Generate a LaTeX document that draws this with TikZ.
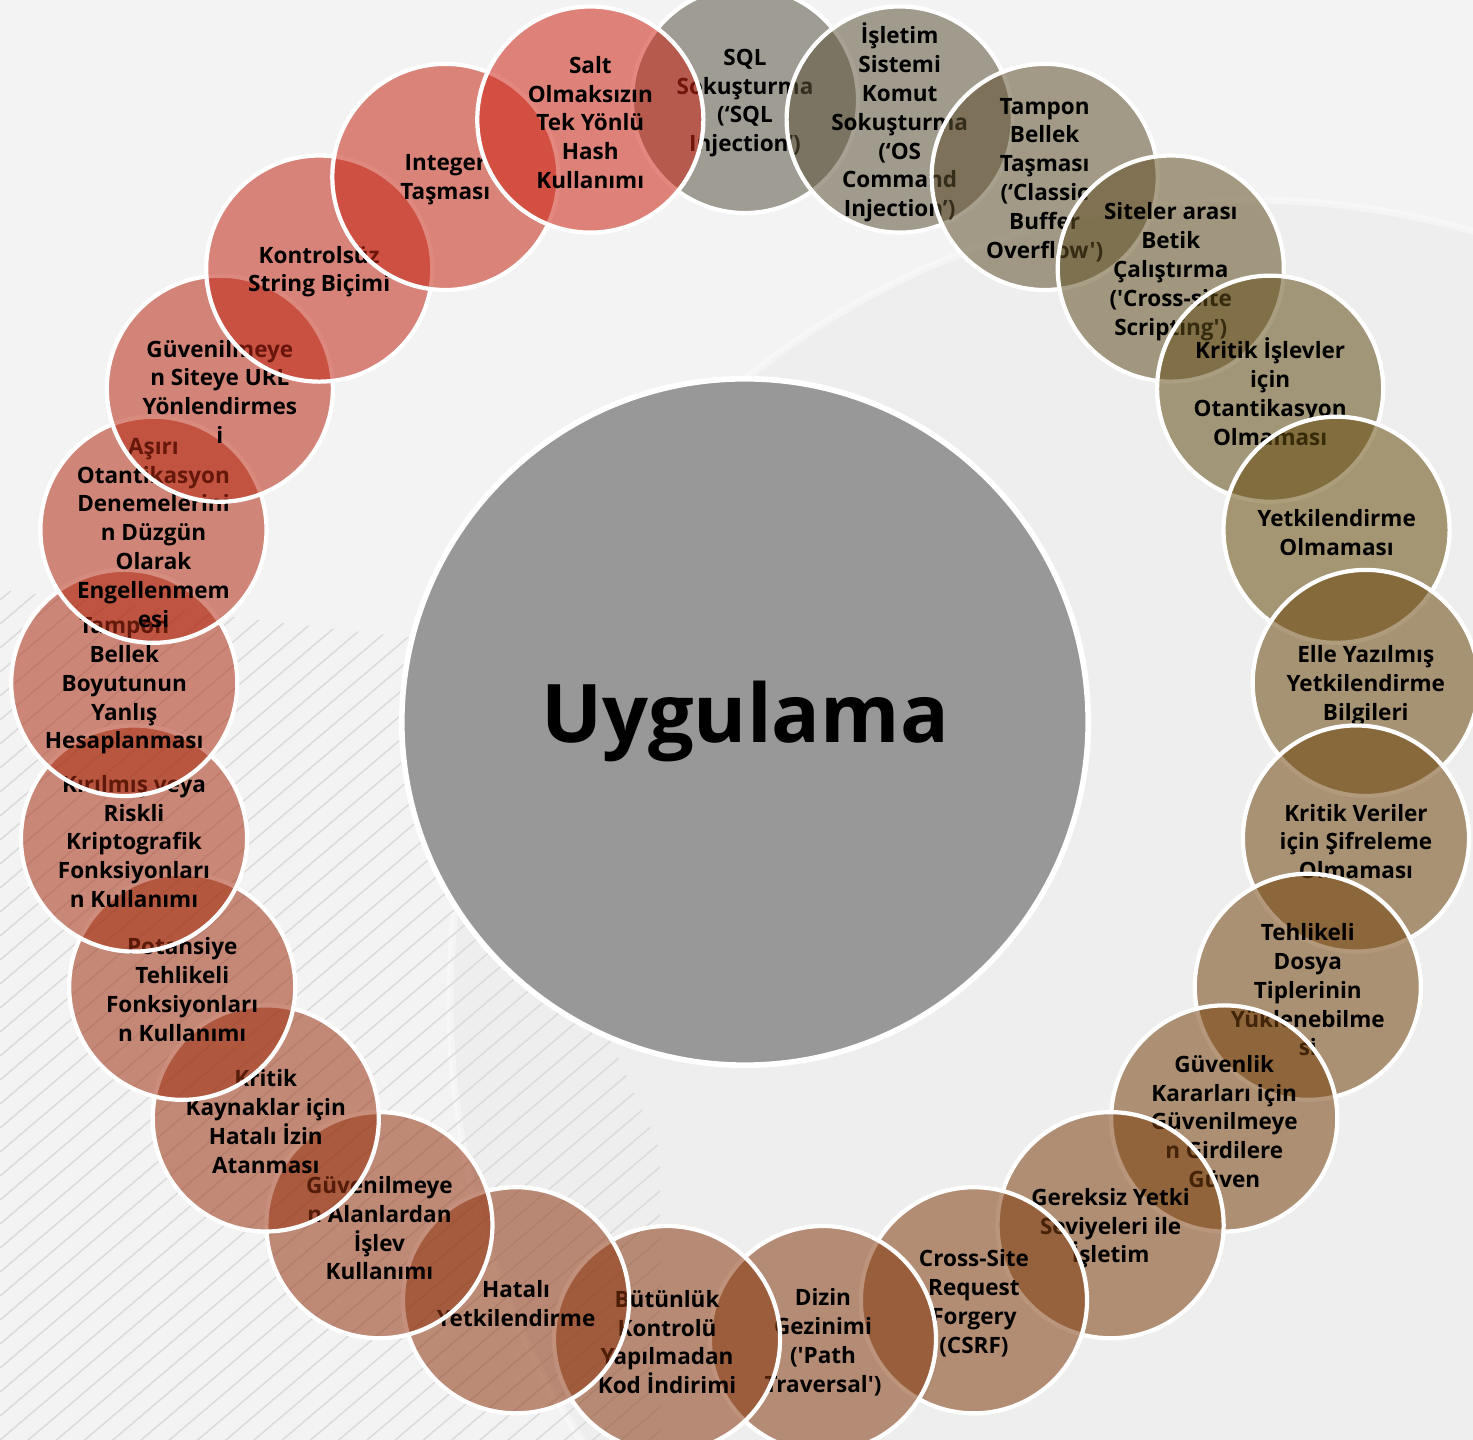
\documentclass[tikz,border=0pt]{standalone}
\usepackage{fontspec}
\newfontfamily\ringfont{Open Sans}
\usetikzlibrary{calc}
\definecolor{bgcol}{RGB}{243,243,243}
\definecolor{arccol}{RGB}{238,238,238}
\definecolor{hatchcol}{RGB}{218,218,218}
\definecolor{hubcol}{RGB}{152,152,152}
\definecolor{ringA}{RGB}{91,86,69}
\definecolor{ringB}{RGB}{104,77,15}
\definecolor{ringC}{RGB}{142,54,16}
\definecolor{ringD}{RGB}{204,37,22}
\tikzset{
  hub/.style={circle,draw=white,fill=hubcol,line width=1.6pt,minimum size=6.86cm,inner sep=0pt,font=\ringfont\fontsize{23}{27}\selectfont\bfseries},
  sat/.style={circle,draw=white,line width=1.2pt,fill opacity=0.55,minimum size=2.26cm,inner sep=0pt},
  satlbl/.style={align=center,inner sep=0pt,yshift=-0.03cm,font=\ringfont\fontsize{6.4}{8.2}\selectfont\bfseries},
  hatch/.style={draw=hatchcol,line width=0.4pt}
}
\begin{document}
\begin{tikzpicture}[x=0.01cm,y=0.01cm]
  \useasboundingbox (0,0) rectangle (1473,1440);
  \clip (0,0) rectangle (1473,1440);
  % backdrop
  \fill[bgcol] (0,0) rectangle (1473,1440);
  \fill[arccol] (1250,440) circle (800);
  \draw[white,line width=2pt,opacity=0.4] (1250,440) circle (800);
  \begin{scope}
    \clip (0,850) -- (430,800) -- (660,290) -- (660,0) -- (0,0) -- cycle;
    \foreach \b in {-600,-576,...,900}{\draw[hatch] (0,\b) -- (1000,\b+850);}
  \end{scope}
  % hub
  \node[hub] (c) at (745,718) {Uygulama};
  % ring, clockwise from the top
  \foreach \k/\txt in {
    1/{SQL\\Sokuşturma\\(‘SQL\\Injection’)},
    2/{İşletim\\Sistemi\\Komut\\Sokuşturma\\(‘OS\\Command\\Injection’)},
    3/{Tampon\\Bellek\\Taşması\\(‘Classic\\Buffer\\Overflow')},
    4/{Siteler arası\\Betik\\Çalıştırma\\('Cross-site\\Scripting')},
    5/{Kritik İşlevler\\için\\Otantikasyon\\Olmaması},
    6/{Yetkilendirme\\Olmaması},
    7/{Elle Yazılmış\\Yetkilendirme\\Bilgileri},
    8/{Kritik Veriler\\için Şifreleme\\Olmaması},
    9/{Tehlikeli\\Dosya\\Tiplerinin\\Yüklenebilme\\si},
    10/{Güvenlik\\Kararları için\\Güvenilmeye\\n Girdilere\\Güven},
    11/{Gereksiz Yetki\\Seviyeleri ile\\İşletim},
    12/{Cross-Site\\Request\\Forgery\\(CSRF)},
    13/{Dizin\\Gezinimi\\('Path\\Traversal')},
    14/{Bütünlük\\Kontrolü\\Yapılmadan\\Kod İndirimi},
    15/{Hatalı\\Yetkilendirme},
    16/{Güvenilmeye\\n Alanlardan\\İşlev\\Kullanımı},
    17/{Kritik\\Kaynaklar için\\Hatalı İzin\\Atanması},
    18/{Potansiye\\Tehlikeli\\Fonksiyonları\\n Kullanımı},
    19/{Kırılmış veya\\Riskli\\Kriptografik\\Fonksiyonları\\n Kullanımı},
    20/{Tampon\\Bellek\\Boyutunun\\Yanlış\\Hesaplanması},
    21/{Aşırı\\Otantikasyon\\Denemelerini\\n Düzgün\\Olarak\\Engellenmem\\esi},
    22/{Güvenilmeye\\n Siteye URL\\Yönlendirmes\\i},
    23/{Kontrolsüz\\String Biçimi},
    24/{Integer\\Taşması},
    25/{Salt\\Olmaksızın\\Tek Yönlü\\Hash\\Kullanımı}}{
    \pgfmathsetmacro\ang{90-14.4*(\k-1)}
    \ifnum\k<7 \pgfmathtruncatemacro\pc{20*(\k-1)}\colorlet{cur}{ringB!\pc!ringA}%
    \else\ifnum\k<16 \pgfmathtruncatemacro\pc{100*(\k-6)/9}\colorlet{cur}{ringC!\pc!ringB}%
    \else \pgfmathtruncatemacro\pc{10*(\k-15)}\colorlet{cur}{ringD!\pc!ringC}\fi\fi
    \node[sat,fill=cur] (s\k) at ($(c)+(\ang:622)$) {};
    \node[satlbl] (t\k) at (s\k) {\txt};
  }
\end{tikzpicture}
\end{document}
